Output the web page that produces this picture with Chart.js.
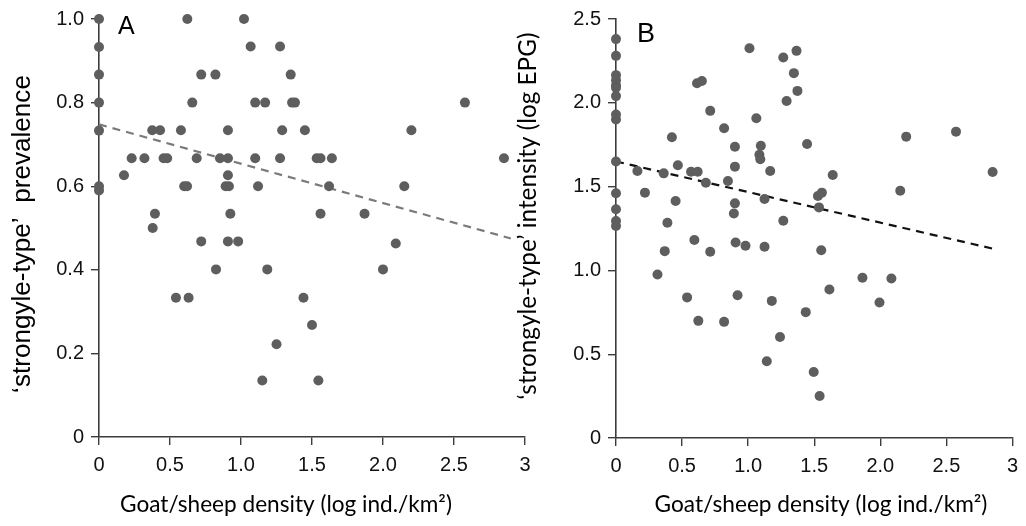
<!DOCTYPE html>
<html>
<head>
<meta charset="utf-8">
<script src="https://cdn.jsdelivr.net/npm/chart.js@4.4.1/dist/chart.umd.min.js"></script>
<style>
  html, body { margin: 0; padding: 0; background: #fff; }
  #wrap { position: relative; width: 1026px; height: 526px; }
  #wrap canvas { position: absolute; left: 0; top: 0; }
</style>
</head>
<body>
<div id="wrap">
  <canvas id="chartA" width="1026" height="526"></canvas>
  <canvas id="chartB" width="1026" height="526"></canvas>
</div>
<script>
// ---------- DATOS PANEL A (prevalencia) ----------
const densA = [0, 0, 0, 0, 0, 0, 0,
  0.176, 0.23, 0.32, 0.375, 0.43, 0.394, 0.378, 0.455, 0.48, 0.577, 0.6, 0.62, 0.622,
  0.657, 0.688, 0.72, 0.82, 0.72, 0.852, 0.908, 0.908, 0.908, 0.892, 0.915, 0.925,
  0.908, 0.98, 1.021, 1.068, 1.10, 1.17, 1.10, 1.12, 1.275, 1.35, 1.36, 1.38, 2.577,
  1.29, 1.45, 2.20, 1.275, 1.533, 1.56, 1.64, 2.852, 1.62, 2.15, 1.56, 1.87, 2.09,
  0.824, 0.542, 0.631, 1.185, 2.0, 1.44, 1.50, 1.25, 1.15, 1.545];
const prevA = [1.0, 0.933, 0.867, 0.8, 0.733, 0.6, 0.59,
  0.626, 0.667, 0.667, 0.734, 0.734, 0.534, 0.50, 0.667, 0.667, 0.734, 0.6, 0.6, 1.0,
  0.8, 0.667, 0.867, 0.867, 0.468, 0.667, 0.667, 0.734, 0.626, 0.6, 0.6, 0.534,
  0.468, 0.468, 1.0, 0.934, 0.8, 0.8, 0.667, 0.6, 0.934, 0.867, 0.8, 0.8, 0.8,
  0.734, 0.734, 0.734, 0.667, 0.667, 0.667, 0.667, 0.667, 0.6, 0.6, 0.534, 0.534, 0.463,
  0.401, 0.333, 0.333, 0.401, 0.401, 0.333, 0.268, 0.222, 0.135, 0.135];
const trendAx = [0, 2.9];
const trendAy = [0.748, 0.475];

// ---------- DATOS PANEL B (intensidad) ----------
const densB = [0, 0, 0, 0, 0, 0, 0, 0, 0, 0, 0, 0, 0, 0,
  1.01, 0.613, 0.65, 0.713, 0.818, 1.062, 0.423, 0.90, 1.096, 1.085, 1.092, 1.167,
  0.468, 0.90, 0.162, 0.361, 0.568, 0.618, 0.68, 0.847, 0.219, 1.124, 0.451, 0.90,
  0.892, 0.389, 0.593, 0.905, 0.98, 1.124, 1.266, 1.366, 1.346, 1.373, 1.291, 1.446,
  2.196, 2.573, 2.85, 1.64, 1.528, 1.558, 1.536, 2.151, 1.266, 1.553, 0.314, 0.369,
  0.713, 0.538, 0.92, 0.623, 0.818, 1.179, 1.141, 1.865, 2.084, 1.615, 1.994, 1.436,
  1.241, 1.496, 1.541];
const epgB = [2.38, 2.28, 2.165, 2.135, 2.105, 2.09, 2.04, 1.93, 1.90, 1.65, 1.46, 1.365, 1.295, 1.265,
  2.326, 2.117, 2.13, 1.952, 1.848, 1.908, 1.794, 1.738, 1.744, 1.69, 1.663, 1.593,
  1.627, 1.619, 1.593, 1.579, 1.589, 1.589, 1.523, 1.533, 1.464, 1.426, 1.414, 1.40,
  1.34, 1.284, 1.181, 1.167, 1.147, 1.141, 2.27, 2.31, 2.177, 2.071, 2.011, 1.754,
  1.798, 1.828, 1.587, 1.569, 1.444, 1.464, 1.376, 1.475, 1.296, 1.12, 0.976, 1.115,
  1.111, 0.839, 0.852, 0.699, 0.693, 0.818, 0.458, 0.956, 0.952, 0.886, 0.809, 0.751,
  0.603, 0.394, 0.251];
const trendBx = [0, 2.85];
const trendBy = [1.65, 1.13];

// ---------- TICKS ----------
const xTicks = [0, 0.5, 1, 1.5, 2, 2.5, 3];
const xTickLabels = ['0', '0.5', '1.0', '1.5', '2.0', '2.5', '3'];
const yTicksA = [0, 0.2, 0.4, 0.6, 0.8, 1.0];
const yTickLabelsA = ['0', '0.2', '0.4', '0.6', '0.8', '1.0'];
const yTicksB = [0, 0.5, 1, 1.5, 2, 2.5];
const yTickLabelsB = ['0', '0.5', '1.0', '1.5', '2.0', '2.5'];

const xTitle = 'Goat/sheep density (log ind./km\u00B2)';
const yTitleA = '\u2018strongyle-type\u2019  prevalence';
const yTitleB = '\u2018strongyle-type\u2019 intensity (log EPG)';

const AXIS = '#3c3c3c';
const DOT = '#5e5e5e';
const ARIAL = '"Liberation Sans", Arial, sans-serif';
const CALIBRI = 'Lato, "Open Sans", sans-serif';

function pairs(xs, ys) {
    return xs.map((x, i) => ({ x: x, y: ys[i] }));
}

// textos del panel (letra y títulos de ejes)
const panelText = {
    id: 'panelText',
    afterDraw(chart, args, opts) {
        const ctx = chart.ctx;
        opts.items.forEach(t => {
            ctx.save();
            ctx.fillStyle = '#000';
            let size = t.size || 20;
            ctx.font = size + 'px ' + t.family;
            if (t.width) {
                size = size * t.width / ctx.measureText(t.text).width;
                ctx.font = size + 'px ' + t.family;
            }
            ctx.translate(t.x, t.y);
            if (t.rotate) ctx.rotate(-Math.PI / 2);
            ctx.textAlign = t.align || 'center';
            ctx.textBaseline = 'alphabetic';
            ctx.fillText(t.text, 0, 0);
            ctx.restore();
        });
    }
};

function axis(vals, labels, min, max, fitSize, isX) {
    return {
        type: 'linear',
        position: isX ? 'bottom' : 'left',
        min: min,
        max: max,
        border: { display: true, color: AXIS, width: 1.6 },
        grid: { drawOnChartArea: false, drawTicks: true, tickLength: 8, color: AXIS, lineWidth: 1.4 },
        ticks: {
            color: '#111',
            font: { family: ARIAL, size: 20 },
            padding: isX ? 8 : 7,
            maxRotation: 0,
            autoSkip: false,
            callback: (v, i) => labels[i]
        },
        afterBuildTicks: s => { s.ticks = vals.map(v => ({ value: v })); },
        afterFit: s => { if (isX) s.height = fitSize; else s.width = fitSize; }
    };
}

function makeChart(id, pts, trend, trendColor, yVals, yLabels, yMax, pad, xFit, texts) {
    return new Chart(document.getElementById(id), {
        type: 'scatter',
        data: {
            datasets: [{
                data: pts,
                pointRadius: 5,
                pointHoverRadius: 5,
                backgroundColor: DOT,
                borderWidth: 0,
                clip: false
            }, {
                type: 'line',
                data: trend,
                showLine: true,
                borderColor: trendColor,
                borderWidth: 2.2,
                borderDash: [8, 6],
                pointRadius: 0,
                fill: false,
                clip: false
            }]
        },
        options: {
            responsive: false,
            animation: false,
            layout: { padding: pad },
            plugins: {
                legend: { display: false },
                tooltip: { enabled: false },
                panelText: { items: texts }
            },
            scales: {
                x: axis(xTicks, xTickLabels, 0, 3, xFit, true),
                y: axis(yVals, yLabels, 0, yMax, 60, false)
            }
        },
        plugins: [panelText]
    });
}

makeChart('chartA', pairs(densA, prevA), pairs(trendAx, trendAy), '#7a7a7a',
    yTicksA, yTickLabelsA, 1.0,
    { left: 39, right: 501, top: 17, bottom: 0 }, 89, [
        { text: 'A', x: 118, y: 34, size: 25, family: ARIAL, align: 'left' },
        { text: xTitle, x: 286, y: 512, width: 332, family: CALIBRI },
        { text: yTitleA, x: 30, y: 234, width: 318, family: ARIAL, rotate: true }
    ]);

makeChart('chartB', pairs(densB, epgB), pairs(trendBx, trendBy), '#111',
    yTicksB, yTickLabelsB, 2.5,
    { left: 556, right: 9, top: 19, bottom: 0 }, 88, [
        { text: 'B', x: 637, y: 42, size: 27, family: ARIAL, align: 'left' },
        { text: xTitle, x: 821, y: 512, width: 333, family: CALIBRI },
        { text: yTitleB, x: 536, y: 216, width: 367, family: CALIBRI, rotate: true }
    ]);
</script>
</body>
</html>
